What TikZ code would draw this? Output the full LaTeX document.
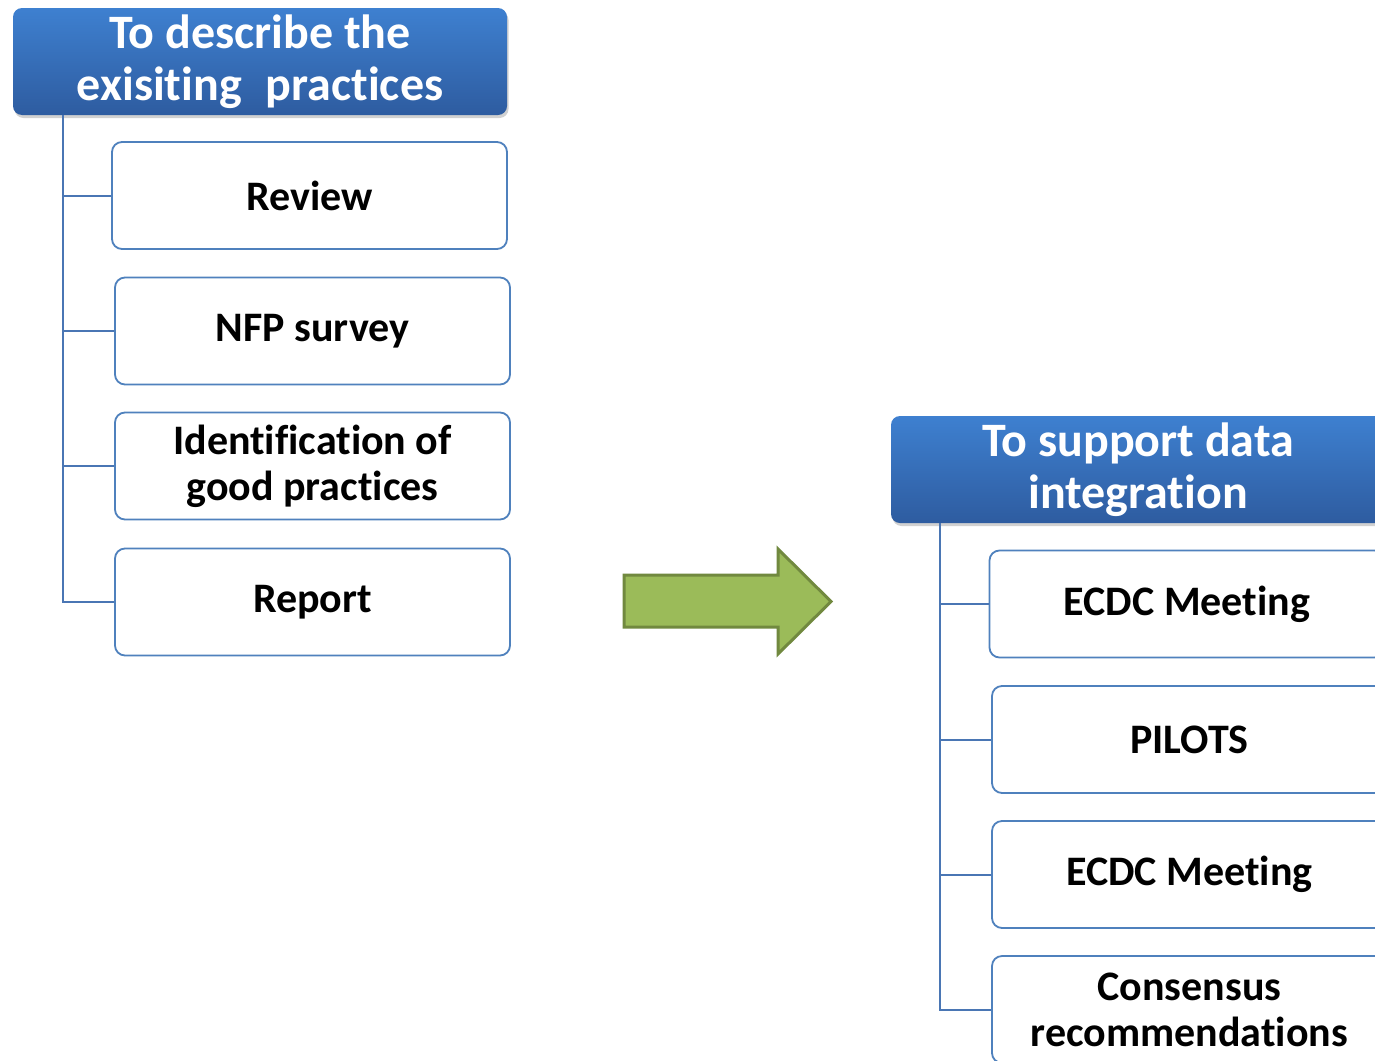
\documentclass[tikz,border=0pt]{standalone}
\usepackage{fontspec}
\setmainfont{Carlito}[Ligatures={NoCommon,NoRequired,NoContextual},RawFeature={-liga;-clig;-calt;-dlig}]
\usetikzlibrary{shadows}
\definecolor{hdrtop}{RGB}{62,128,208}
\definecolor{hdrbot}{RGB}{46,92,160}
\definecolor{boxline}{RGB}{79,129,189}
\definecolor{connline}{RGB}{74,118,180}
\definecolor{arrfill}{RGB}{155,187,89}
\definecolor{arrline}{RGB}{113,137,63}
\tikzset{
  hdr/.style={rectangle, rounded corners=9pt, minimum width=494pt, minimum height=107pt,
    top color=hdrtop, bottom color=hdrbot, draw=none, text=white, align=center,
    font=\bfseries\fontsize{48}{52}\selectfont, inner sep=0pt,
    drop shadow={shadow xshift=1.5pt, shadow yshift=-3pt, opacity=0.18, fill=black}},
  childbox/.style={rectangle, rounded corners=10pt, minimum width=395pt, minimum height=107pt,
    draw=boxline, line width=1.8pt, fill=white, text=black, align=center,
    font=\bfseries\fontsize{42}{46}\selectfont, inner sep=0pt},
  conn/.style={draw=connline, line width=2pt},
  bigarrow/.style={fill=arrfill, draw=arrline, line width=3pt, line join=miter}
}
\begin{document}
\begin{tikzpicture}[x=1pt,y=-1pt]
\useasboundingbox (0,0) rectangle (1375,1060);
\clip (0,0) rectangle (1375,1060);
\fill[white] (0,0) rectangle (1375,1060);

% left column
\node[hdr] (h1) at (260,61.5) {To describe the\\exisiting\hspace{0.5em}practices};
\node[childbox] (c1) at (309.5,195.5) {Review};
\node[childbox] (c2) at (312.5,331) {NFP survey};
\node[childbox] (c3) at (312.5,466) {Identification of\\good practices};
\node[childbox] (c4) at (312.5,602) {Report};
\coordinate (t1) at ([xshift=50pt]h1.south west);
\draw[conn] (t1) |- (c1.west);
\draw[conn] (t1) |- (c2.west);
\draw[conn] (t1) |- (c3.west);
\draw[conn] (t1) |- (c4.west);

% arrow
\draw[bigarrow] (624,575) -- (778,575) -- (778,549) -- (831,601.5) -- (778,654) -- (778,627) -- (624,627) -- cycle;

% right column
\node[hdr] (h2) at (1138,469.5) {To support data\\integration};
\node[childbox] (d1) at (1187,604) {ECDC Meeting};
\node[childbox] (d2) at (1189.5,739.5) {PILOTS};
\node[childbox] (d3) at (1189.5,874.5) {ECDC Meeting};
\node[childbox] (d4) at (1189.5,1009.5) {Consensus\\recommendations};
\coordinate (t2) at ([xshift=49pt]h2.south west);
\draw[conn] (t2) |- (d1.west);
\draw[conn] (t2) |- (d2.west);
\draw[conn] (t2) |- (d3.west);
\draw[conn] (t2) |- (d4.west);
\end{tikzpicture}
\end{document}
